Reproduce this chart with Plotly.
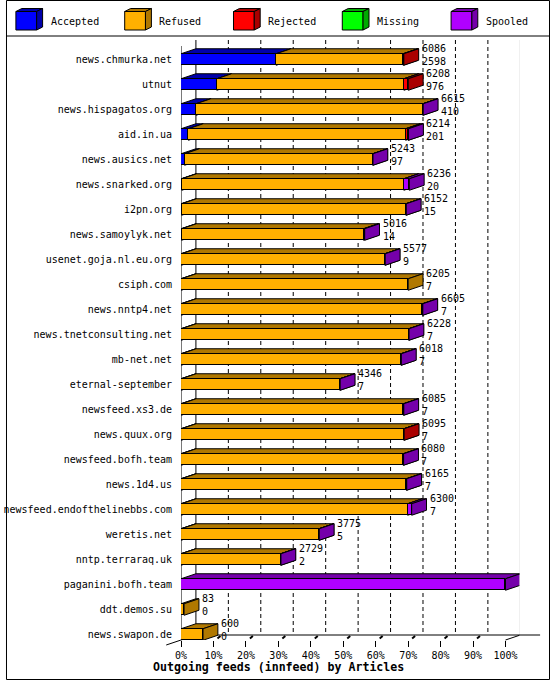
import plotly.graph_objects as go

# ---------------- data ----------------
hosts = ["news.chmurka.net", "utnut", "news.hispagatos.org", "aid.in.ua",
         "news.ausics.net", "news.snarked.org", "i2pn.org", "news.samoylyk.net",
         "usenet.goja.nl.eu.org", "csiph.com", "news.nntp4.net",
         "news.tnetconsulting.net", "mb-net.net", "eternal-september",
         "newsfeed.xs3.de", "news.quux.org", "newsfeed.bofh.team", "news.1d4.us",
         "newsfeed.endofthelinebbs.com", "weretis.net", "nntp.terraraq.uk",
         "paganini.bofh.team", "ddt.demos.su", "news.swapon.de"]
offered = [6086, 6208, 6615, 6214, 5243, 6236, 6152, 5016, 5577, 6205, 6605, 6228,
           6018, 4346, 6085, 6095, 6080, 6165, 6300, 3775, 2729, 8863, 83, 600]
accepted = [2598, 976, 410, 201, 97, 20, 15, 14, 9, 7, 7, 7,
            7, 7, 7, 7, 7, 7, 7, 5, 2, 0, 0, 0]
refused = [3468, 5112, 6193, 5933, 5138, 6066, 6127, 4972, 5560, 6198, 6588, 6211,
           6001, 4331, 6068, 6078, 6063, 6148, 6183, 3762, 2719, 0, 83, 600]
rejected = [20, 120, 0, 70, 0, 0, 0, 0, 0, 0, 0, 0,
            0, 0, 0, 10, 0, 0, 0, 0, 0, 0, 0, 0]
missing = [0, 0, 0, 0, 0, 0, 0, 0, 0, 0, 0, 0,
           0, 0, 0, 0, 0, 0, 0, 0, 0, 0, 0, 0]
spooled = [0, 0, 12, 10, 8, 150, 10, 30, 8, 0, 10, 10,
           10, 8, 10, 0, 10, 10, 110, 8, 8, 8863, 0, 0]
series_names = ["Accepted", "Refused", "Rejected", "Missing", "Spooled"]
pct_values = [0, 10, 20, 30, 40, 50, 60, 70, 80, 90, 100]
pct_labels = ["0%", "10%", "20%", "30%", "40%", "50%", "60%", "70%", "80%", "90%", "100%"]
title_text = "Outgoing feeds (innfeed) by Articles"

series_values = [accepted, refused, rejected, missing, spooled]
front_colors = ["#0000ff", "#ffb000", "#ff0000", "#00ff00", "#b000ff"]
dark_colors = ["#0000aa", "#b07800", "#aa0000", "#00aa00", "#7500aa"]

# ---------------- geometry (pixels) ----------------
W, H = 550, 680
PL, PR = 177, 519          # plot area left/right (front 0% .. back 100%)
PT, PB = 40, 640           # plot area top/bottom
FRONT_W = 328              # pixels for 100% on the front plane
DEPTH_X, DEPTH_Y = 15, 5   # 3D depth in pixels
ROW = 25                   # pixels per category
FIRST_C = 59.5             # pixel centre of first row
BAR_PX = 11.5              # front face height
FONT = "DejaVu Sans Mono"

MAXV = max(offered)
XMAX = MAXV * (PR - PL) / FRONT_W
DXD = DEPTH_X * XMAX / (PR - PL)
DYD = DEPTH_Y / ROW
Y_TOP = -(FIRST_C - PT) / ROW
Y_BOT = Y_TOP + (PB - PT) / ROW
HALF = BAR_PX / ROW / 2
PXD = XMAX / (PR - PL)     # data units per pixel


def px(x):
    return x / W


def py(y):
    return 1 - y / H


n = len(hosts)
rows = list(range(n))

fig = go.Figure()
for k, name in enumerate(series_names):
    vals = [v if v > 0 else None for v in series_values[k]]
    fig.add_trace(go.Bar(
        y=rows, x=vals, orientation="h", name=name, width=2 * HALF,
        marker=dict(color=front_colors[k], line=dict(color="black", width=1)),
        showlegend=False, hovertemplate=name + ": %{x}<extra></extra>"))

shapes = []
# back plane / floor
tick_x = [p / 100 * MAXV for p in pct_values]
for tx in tick_x[1:-1]:
    shapes.append(dict(type="line", xref="x", yref="paper", x0=tx + DXD, x1=tx + DXD,
                       y0=py(PT), y1=py(PB - DEPTH_Y), layer="below",
                       line=dict(color="black", width=1, dash="4px,3px")))
    # small 3D tick stub going back into the floor
    shapes.append(dict(type="line", xref="x", yref="paper", x0=tx + 4 * PXD, x1=tx + 7 * PXD,
                       y0=py(PB - 1.5), y1=py(PB - 4), layer="below",
                       line=dict(color="black", width=2)))
for tx in (tick_x[0], tick_x[-1]):
    shapes.append(dict(type="line", xref="x", yref="paper", x0=tx + DXD, x1=tx + DXD,
                       y0=py(PT), y1=py(PB - DEPTH_Y), layer="below",
                       line=dict(color="black", width=1)))
shapes.append(dict(type="line", xref="x", yref="paper", x0=0, x1=0,
                   y0=py(PT + 6), y1=py(PB), layer="below",
                   line=dict(color="black", width=1)))
shapes.append(dict(type="line", xref="paper", yref="paper", x0=px(PL + DEPTH_X), x1=px(540),
                   y0=py(PB - DEPTH_Y), y1=py(PB - DEPTH_Y), layer="below",
                   line=dict(color="black", width=1)))
shapes.append(dict(type="line", xref="paper", yref="paper", x0=px(PL - DEPTH_X), x1=px(PL + DEPTH_X),
                   y0=py(PB + DEPTH_Y), y1=py(PB - DEPTH_Y), layer="below",
                   line=dict(color="black", width=1)))
shapes.append(dict(type="line", xref="x", yref="paper", x0=MAXV, x1=MAXV + DXD,
                   y0=py(PB), y1=py(PB - DEPTH_Y), layer="below",
                   line=dict(color="black", width=1)))

# 3D faces of bars
for i in rows:
    start = 0
    yt, yb = i - HALF, i + HALF
    for k in range(len(series_names)):
        v = series_values[k][i]
        if v <= 0:
            continue
        x0, x1 = start, start + v
        top = (f"M {x0},{yt} L {x1},{yt} L {x1 + DXD},{yt - DYD} "
               f"L {x0 + DXD},{yt - DYD} Z")
        side = (f"M {x1},{yt} L {x1 + DXD},{yt - DYD} L {x1 + DXD},{yb - DYD} "
                f"L {x1},{yb} Z")
        for p in (top, side):
            shapes.append(dict(type="path", xref="x", yref="y", path=p, layer="between",
                               fillcolor=dark_colors[k],
                               line=dict(color="black", width=1)))
        start = x1

# frame + legend separator
shapes.append(dict(type="rect", xref="paper", yref="paper", x0=px(0.5), x1=px(549.5),
                   y0=py(0.5), y1=py(679.5), line=dict(color="black", width=1)))
shapes.append(dict(type="line", xref="paper", yref="paper", x0=px(0), x1=px(550),
                   y0=py(36), y1=py(36), line=dict(color="black", width=1)))

annotations = []
# legend boxes
for k, name in enumerate(series_names):
    bx = 10 + 110 * k
    shapes.append(dict(type="rect", xref="paper", yref="paper", x0=px(bx), x1=px(bx + 21),
                       y0=py(11.5), y1=py(30), fillcolor=front_colors[k],
                       line=dict(color="black", width=1)))
    shapes.append(dict(type="path", xref="paper", yref="paper",
                       path=(f"M {px(bx)},{py(11.5)} L {px(bx + 21)},{py(11.5)} "
                             f"L {px(bx + 27)},{py(8.5)} L {px(bx + 6)},{py(8.5)} Z"),
                       fillcolor=dark_colors[k], line=dict(color="black", width=1)))
    shapes.append(dict(type="path", xref="paper", yref="paper",
                       path=(f"M {px(bx + 21)},{py(11.5)} L {px(bx + 27)},{py(8.5)} "
                             f"L {px(bx + 27)},{py(27)} L {px(bx + 21)},{py(30)} Z"),
                       fillcolor=dark_colors[k], line=dict(color="black", width=1)))
    annotations.append(dict(xref="paper", yref="paper", x=px(bx + 33), y=py(21),
                            xanchor="left", yanchor="middle", showarrow=False, text=name,
                            font=dict(family=FONT, size=10, color="black")))

# value labels
for i in rows:
    annotations.append(dict(xref="x", yref="y", x=offered[i] + DXD, y=i,
                            xanchor="left", yanchor="middle", xshift=1, yshift=4.5,
                            showarrow=False, align="left",
                            text=f"{offered[i]}<br>{accepted[i]}",
                            font=dict(family=FONT, size=10, color="black")))

annotations.append(dict(xref="paper", yref="paper", x=px(275), y=py(667),
                        xanchor="center", yanchor="middle", showarrow=False,
                        text=f"<b>{title_text}</b>",
                        font=dict(family=FONT, size=11.6, color="black")))

fig.update_layout(
    width=W, height=H, margin=dict(l=0, r=0, t=0, b=0),
    paper_bgcolor="white", plot_bgcolor="white",
    barmode="stack", bargap=0, showlegend=False,
    shapes=shapes, annotations=annotations,
    xaxis=dict(domain=[px(PL), px(PR)], range=[0, XMAX], tickvals=tick_x, ticktext=pct_labels,
               ticks="outside", ticklen=6, tickcolor="black", tickwidth=1,
               showgrid=False, zeroline=False, showline=False,
               tickfont=dict(family=FONT, size=10, color="black")),
    yaxis=dict(domain=[py(PB), py(PT)], range=[Y_BOT, Y_TOP], tickvals=rows, ticktext=hosts,
               ticks="", showgrid=False, zeroline=False, showline=False,
               ticklabelstandoff=8,
               tickfont=dict(family=FONT, size=10, color="black")),
)

fig.write_html("out.html", config={"displayModeBar": False},
               post_script="document.body.style.margin='0';document.body.style.overflow='hidden';")
